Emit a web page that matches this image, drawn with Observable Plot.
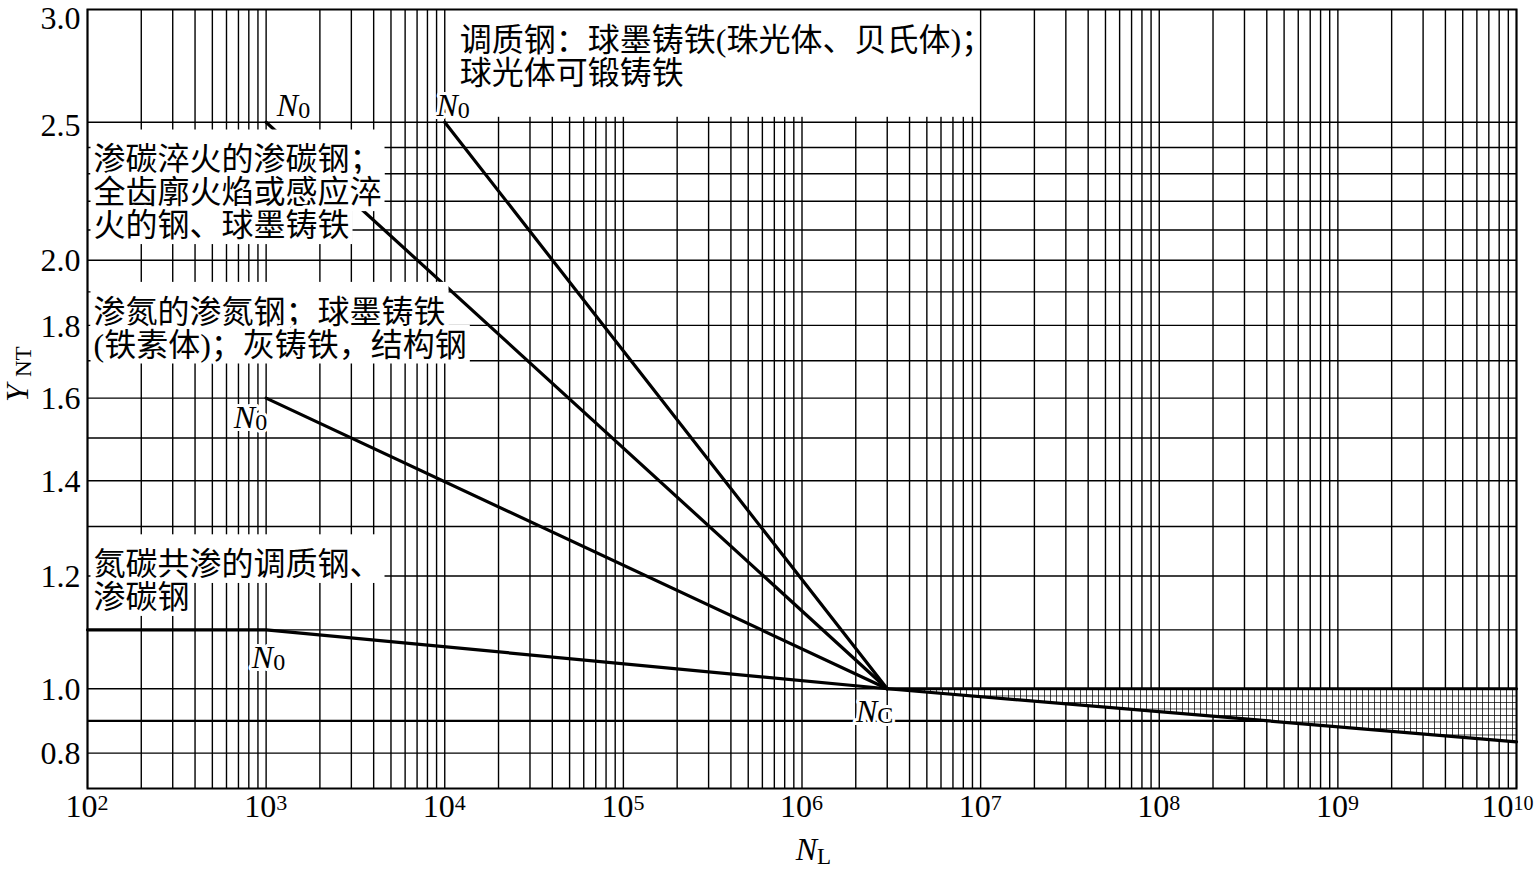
<!DOCTYPE html>
<html>
<head>
<meta charset="utf-8">
<script src="https://cdn.jsdelivr.net/npm/d3@7"></script>
<script src="https://cdn.jsdelivr.net/npm/@observablehq/plot@0.6"></script>
<style>
  html, body { margin: 0; padding: 0; background: #fff; }
  #chart svg { display: block; }
</style>
</head>
<body>
<div id="chart"></div>
<script>
// ---------- data ----------
const xExponents = [2, 3, 4, 5, 6, 7, 8, 9, 10];
const yTickValues = [0.8, 1.0, 1.2, 1.4, 1.6, 1.8, 2.0, 2.5, 3.0];
const yGridValues = [0.8, 1.0, 1.1, 1.2, 1.3, 1.4, 1.5, 1.6, 1.7, 1.8, 1.9, 2.0, 2.1, 2.2, 2.3, 2.4, 2.5];
const yGridBold = [0.9];

const curveTempered = [{n: 1e4, y: 2.5}, {n: 3e6, y: 1.0}];
const curveCarburized = [{n: 1e3, y: 2.5}, {n: 3e6, y: 1.0}];
const curveNitrided = [{n: 1e3, y: 1.6}, {n: 3e6, y: 1.0}];
const curveNitrocarburized = [{n: 1e2, y: 1.1}, {n: 1e3, y: 1.1}, {n: 3e6, y: 1.0}];
const longLifeUpper = [{n: 3e6, y: 1.0}, {n: 1e10, y: 1.0}];
const longLifeLower = [{n: 3e6, y: 1.0}, {n: 1e10, y: 0.835}];

const n0Tempered = {n: 1e4, y: 2.5};
const n0Carburized = {n: 1e3, y: 2.5};
const n0Nitrided = {n: 1e3, y: 1.6};
const n0Nitrocarburized = {n: 1e3, y: 1.1};
const ncPoint = {n: 3e6, y: 1.0};

const labelTempered = ["调质钢：球墨铸铁(珠光体、贝氏体)；", "球光体可锻铸铁"];
const labelCarburized = ["渗碳淬火的渗碳钢；", "全齿廓火焰或感应淬", "火的钢、球墨铸铁"];
const labelNitrided = ["渗氮的渗氮钢；球墨铸铁", "(铁素体)；灰铸铁，结构钢"];
const labelNitrocarburized = ["氮碳共渗的调质钢、", "渗碳钢"];

// ---------- scale helper: log above 1.0, compressed linear below ----------
const T = v => v >= 1 ? Math.log10(v) : (v - 1) * 0.226;

const gridX = xExponents.flatMap(e => e < 10 ? d3.range(1, 10).map(m => m * 10 ** e) : [10 ** e]);
const hatchBand = longLifeUpper.map((d, i) => ({n: d.n, upper: d.y, lower: longLifeLower[i].y}));

const serif = "'Liberation Serif', 'Times New Roman', serif";
const cjk = "'Liberation Serif', 'Noto Sans CJK SC', serif";
const cjkBoxed = "'Liberation Serif', 'Noto Sans CJK SC', 'Noto Sans CJK JP', serif";
const lineOpts = {x: "n", y: d => T(d.y), stroke: "black", strokeWidth: 3.2, strokeLinejoin: "round"};
const halo = {fill: "black", stroke: "white", strokeWidth: 8, strokeLinejoin: "round", paintOrder: "stroke"};
const regionText = {textAnchor: "start", fontSize: 32, lineHeight: 1.03, fontFamily: cjkBoxed, ...halo};

function nLabel(pt, sub, dx, dy) {
  return [
    Plot.text([pt], {x: "n", y: d => T(d.y), text: () => "N", fontStyle: "italic", fontSize: 32, fontFamily: serif,
      textAnchor: "end", dx: dx, dy: dy, ...halo, strokeWidth: 6}),
    Plot.text([pt], {x: "n", y: d => T(d.y), text: () => sub, fontSize: 24, fontFamily: serif,
      textAnchor: "start", dx: dx, dy: dy + 4, ...halo, strokeWidth: 6})
  ];
}

const tickText = {frameAnchor: "bottom", fontFamily: serif, fill: "black"};

const chart = Plot.plot({
  width: 1538,
  height: 871,
  marginLeft: 87,
  marginRight: 22,
  marginTop: 9,
  marginBottom: 83,
  x: {type: "log", domain: [1e2, 1e10], axis: null},
  y: {type: "linear", domain: [T(0.69), T(3.0)], axis: null},
  style: {background: "white", color: "black", fontFamily: serif},
  marks: [
    // grid
    Plot.ruleX(gridX, {x: d => d, stroke: "black", strokeWidth: 1.4}),
    Plot.ruleY(yGridValues, {y: d => T(d), stroke: "black", strokeWidth: 1.4}),
    Plot.ruleY(yGridBold, {y: d => T(d), stroke: "black", strokeWidth: 2.2}),
    // hatched long-life band
    Plot.areaY(hatchBand, {x: "n", y1: d => T(d.lower), y2: d => T(d.upper), fill: "url(#ynt-hatch)"}),
    // white box behind the top label
    Plot.rect([0], {x1: 1.05e4, x2: 9.7e6, y1: T(2.52), y2: T(3.0), fill: "white"}),
    // curves
    Plot.line(curveTempered, lineOpts),
    Plot.line(curveCarburized, lineOpts),
    Plot.line(curveNitrided, lineOpts),
    Plot.line(curveNitrocarburized, lineOpts),
    Plot.line(longLifeUpper, lineOpts),
    Plot.line(longLifeLower, lineOpts),
    // region labels
    Plot.text([labelTempered.join("\n")], {x: 1e4, y: T(2.78), text: d => d, textAnchor: "start", dx: 15,
      fontSize: 32, lineHeight: 1.03, fontFamily: cjk, fill: "black"}),
    Plot.text([labelCarburized.join("\n")], {x: 1e2, y: T(2.23), text: d => d, dx: 6, ...regionText}),
    Plot.text([labelNitrided.join("\n")], {x: 1e2, y: T(1.79), text: d => d, dx: 6, ...regionText}),
    Plot.text([labelNitrocarburized.join("\n")], {x: 1e2, y: T(1.19), text: d => d, dx: 6, ...regionText}),
    // N0 / Nc labels
    ...nLabel(n0Carburized, "0", 32, -16),
    ...nLabel(n0Tempered, "0", 13, -16),
    ...nLabel(n0Nitrided, "0", -11, 20),
    ...nLabel(n0Nitrocarburized, "0", 7, 28),
    ...nLabel(ncPoint, "C", -10, 23),
    // frame
    Plot.frame({stroke: "black", strokeWidth: 2}),
    // y tick labels
    Plot.text(yTickValues.filter(v => v < 2.5), {y: d => T(d), text: d => d.toFixed(1), frameAnchor: "left",
      textAnchor: "end", dx: -7, dy: 1, fontSize: 32, fontFamily: serif, fill: "black"}),
    Plot.text(yTickValues.filter(v => v === 2.5), {y: d => T(d), text: d => d.toFixed(1), frameAnchor: "left",
      textAnchor: "end", dx: -7, dy: 4, fontSize: 32, fontFamily: serif, fill: "black"}),
    Plot.text(yTickValues.filter(v => v === 3.0), {y: d => T(d), text: d => d.toFixed(1), frameAnchor: "left",
      textAnchor: "end", dx: -7, dy: 9, fontSize: 32, fontFamily: serif, fill: "black"}),
    // x tick labels 10^k
    Plot.text(xExponents.filter(e => e < 10), {x: d => 10 ** d, text: () => "10", textAnchor: "end",
      dx: 10, dy: 28, fontSize: 32, ...tickText}),
    Plot.text(xExponents.filter(e => e < 10), {x: d => 10 ** d, text: d => String(d), textAnchor: "start",
      dx: 10, dy: 21, fontSize: 22, ...tickText}),
    Plot.text(xExponents.filter(e => e === 10), {x: d => 10 ** d, text: () => "10", textAnchor: "end",
      dx: -3, dy: 28, fontSize: 32, ...tickText}),
    Plot.text(xExponents.filter(e => e === 10), {x: d => 10 ** d, text: d => String(d), textAnchor: "start",
      dx: -3, dy: 21, fontSize: 20, ...tickText}),
    // axis titles
    Plot.text(["N"], {frameAnchor: "bottom", text: d => d, textAnchor: "end", dx: 15, dy: 71,
      fontSize: 32, fontStyle: "italic", fontFamily: serif, fill: "black"}),
    Plot.text(["L"], {frameAnchor: "bottom", text: d => d, textAnchor: "start", dx: 15, dy: 75,
      fontSize: 23, fontFamily: serif, fill: "black"}),
    Plot.text(["Y"], {frameAnchor: "left", text: d => d, rotate: -90, textAnchor: "middle", dx: -70, dy: -6,
      fontSize: 32, fontStyle: "italic", fontFamily: serif, fill: "black"}),
    Plot.text(["NT"], {frameAnchor: "left", text: d => d, rotate: -90, textAnchor: "start", dx: -64, dy: -22,
      fontSize: 23, fontFamily: serif, fill: "black"})
  ]
});

// hatch pattern for the long-life band
const svg = chart.tagName.toLowerCase() === "svg" ? chart : chart.querySelector("svg");
const ns = "http://www.w3.org/2000/svg";
const defs = document.createElementNS(ns, "defs");
const pat = document.createElementNS(ns, "pattern");
pat.setAttribute("id", "ynt-hatch");
pat.setAttribute("patternUnits", "userSpaceOnUse");
pat.setAttribute("width", "6");
pat.setAttribute("height", "6.5");
const bg = document.createElementNS(ns, "rect");
bg.setAttribute("width", "6"); bg.setAttribute("height", "6.5"); bg.setAttribute("fill", "white");
const p = document.createElementNS(ns, "path");
p.setAttribute("d", "M0,0.4H6M0.4,0V6.5");
p.setAttribute("stroke", "black"); p.setAttribute("stroke-width", "0.8"); p.setAttribute("fill", "none");
pat.appendChild(bg); pat.appendChild(p); defs.appendChild(pat);
svg.insertBefore(defs, svg.firstChild);

document.getElementById("chart").appendChild(chart);

// white panels behind each line of the left region labels
svg.querySelectorAll("g").forEach(g => {
  const ff = g.getAttribute("font-family") || "";
  if (!ff.includes("CJK JP")) return;
  const fs = parseFloat(g.getAttribute("font-size")) || 32;
  g.querySelectorAll("text").forEach(text => {
    const spans = text.querySelectorAll("tspan");
    const parts = spans.length ? Array.from(spans) : [text];
    const tr = text.getAttribute("transform");
    parts.forEach((el, li) => {
      let x1, x2, base;
      try {
        const n = el.getNumberOfChars();
        if (!n) return;
        const a = el.getExtentOfChar(0), b = el.getExtentOfChar(n - 1);
        x1 = a.x; x2 = b.x + b.width;
        base = el.getStartPositionOfChar(0).y;
      } catch (e) {
        try {
          const bb = el.getBBox();
          x1 = bb.x; x2 = bb.x + bb.width; base = bb.y + bb.height * 0.8;
        } catch (e2) { return; }
      }
      const extraTop = li === 0 ? 0.3 * fs : 0;
      const r = document.createElementNS(ns, "rect");
      r.setAttribute("x", x1 - 3);
      r.setAttribute("width", x2 - x1 + 6);
      r.setAttribute("y", base - 0.98 * fs - extraTop);
      r.setAttribute("height", 1.22 * fs + extraTop);
      r.setAttribute("fill", "white");
      r.setAttribute("stroke", "none");
      if (tr) r.setAttribute("transform", tr);
      text.parentNode.insertBefore(r, text);
    });
  });
});
</script>
</body>
</html>
